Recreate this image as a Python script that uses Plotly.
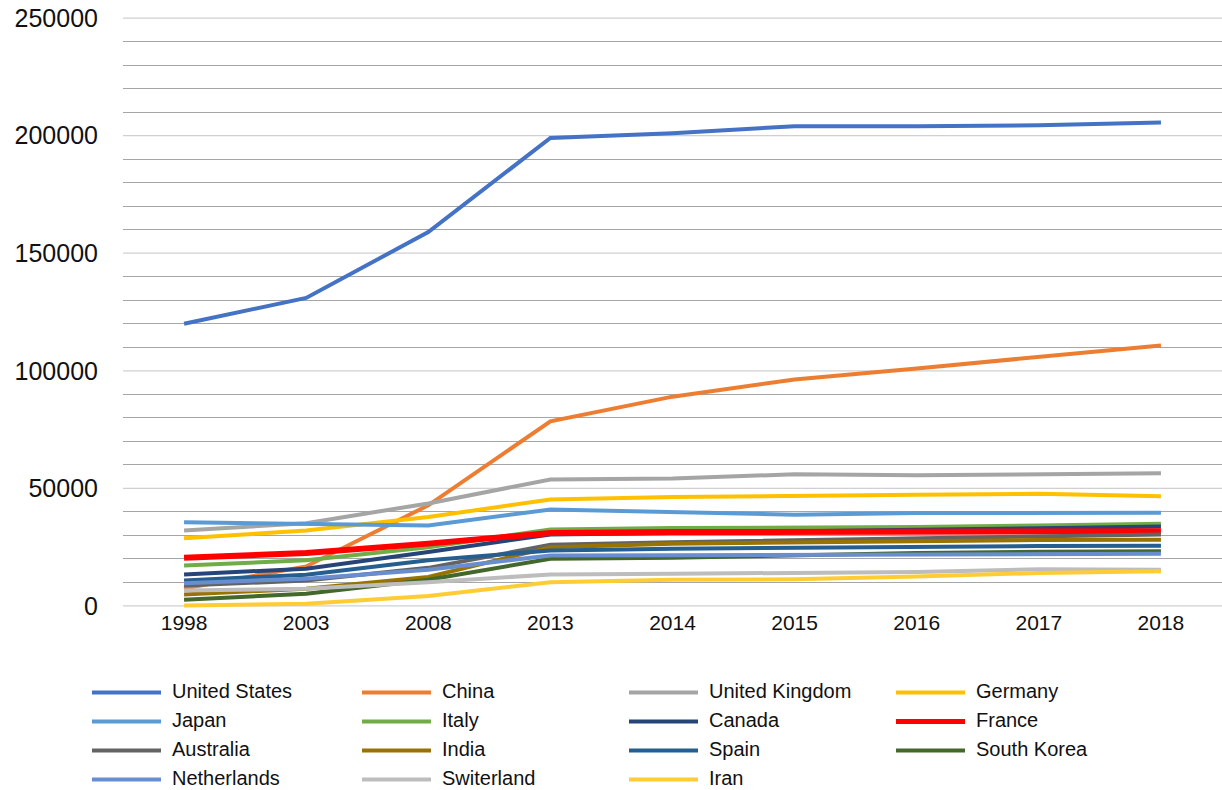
import plotly.graph_objects as go

years = ["1998", "2003", "2008", "2013", "2014", "2015", "2016", "2017", "2018"]

united_states = [120000, 131000, 159000, 199000, 201000, 204000, 204000, 204400, 205600]
china = [7400, 16800, 42800, 78500, 89000, 96300, 101000, 105700, 110800]
united_kingdom = [32100, 35200, 43600, 53800, 54200, 56000, 55600, 56000, 56400]
germany = [28800, 32100, 37800, 45300, 46300, 46600, 47300, 47700, 46600]
japan = [35600, 35000, 34200, 41000, 39900, 38800, 39500, 39500, 39600]
italy = [17200, 19400, 25000, 32500, 33100, 33200, 33600, 34200, 35000]
canada = [13400, 15800, 22900, 30400, 31000, 31500, 32400, 33000, 33800]
france = [20500, 22500, 26500, 31000, 31400, 31500, 32000, 32000, 31800]
australia = [8700, 10800, 16200, 26000, 27100, 28000, 29000, 29800, 30400]
india = [4900, 7300, 12300, 25000, 26500, 27000, 27800, 28000, 28200]
spain = [10800, 13300, 19400, 23600, 24300, 24800, 25300, 25500, 25600]
south_korea = [2600, 5200, 11100, 20100, 20500, 21500, 22500, 23000, 23300]
netherlands = [9700, 11600, 15400, 21500, 21600, 21800, 22000, 22200, 22200]
switzerland = [6600, 7300, 10100, 13400, 13700, 14000, 14400, 15600, 15400]
iran = [200, 900, 4200, 10100, 11100, 11300, 12500, 14000, 14800]

y_major_ticks = [0, 50000, 100000, 150000, 200000, 250000]
y_minor_ticks = [v for v in range(0, 250001, 10000) if v % 50000 != 0]

names = ["United States", "China", "United Kingdom", "Germany",
         "Japan", "Italy", "Canada", "France",
         "Australia", "India", "Spain", "South Korea",
         "Netherlands", "Switerland", "Iran"]
series = [united_states, china, united_kingdom, germany,
          japan, italy, canada, france,
          australia, india, spain, south_korea,
          netherlands, switzerland, iran]
colors = ["#4472C4", "#ED7D31", "#A5A5A5", "#FFC000",
          "#5B9BD5", "#70AD47", "#264478", "#FF0000",
          "#636363", "#997300", "#255E91", "#43682B",
          "#698ED0", "#BDBDBD", "#FFCD33"]
widths = [4, 4, 4, 4, 4, 4, 4, 6, 4, 4, 4, 4, 4, 4, 4]

W, H = 1222, 790
# y range padded so the 0 and 250000 gridlines are not clipped at the plot edges
Y_LO, Y_HI = -3000, 253000
top_px, zero_px = 17.7, 605.5            # pixel rows of 250000 and 0
ppu = (zero_px - top_px) / 250000.0
ML, MR = 123, 0
MT = top_px - (Y_HI - 250000) * ppu
MB = H - (zero_px + (0 - Y_LO) * ppu)

fig = go.Figure()
n = len(names)
for k, (name, vals, col, w) in enumerate(zip(names, series, colors, widths)):
    fig.add_trace(go.Scatter(x=years, y=vals, name=name, mode="lines",
                             line=dict(color=col, width=w), showlegend=False,
                             yaxis=("y2" if k == n - 1 else "y")))

shapes = []
annotations = []

# lighter gridlines at the labelled values (drawn beneath the data)
for v in y_major_ticks:
    shapes.append(dict(type="line", xref="paper", yref="y", layer="below",
                       x0=0, x1=1, y0=v, y1=v,
                       line=dict(color="#D0D0D0", width=1.2)))

# manual legend (4 columns)
pw = W - ML - MR
ph = H - MT - MB
col_x = [92, 362, 629, 896]
row_y = [692, 721, 750, 779]
for i, (name, col, w) in enumerate(zip(names, colors, widths)):
    r, c = divmod(i, 4)
    x0 = col_x[c]
    y = row_y[r]
    shapes.append(dict(type="line", xref="paper", yref="paper",
                       x0=(x0 - ML) / pw, x1=(x0 + 69 - ML) / pw,
                       y0=(H - MB - y) / ph, y1=(H - MB - y) / ph,
                       line=dict(color=col, width=(5 if w > 4 else 4))))
    annotations.append(dict(xref="paper", yref="paper",
                            x=(x0 + 78 - ML) / pw, y=(H - MB - y + 1) / ph,
                            text=name, showarrow=False, xanchor="left", yanchor="middle",
                            font=dict(size=20, color="#111111")))

fig.update_layout(
    width=W, height=H,
    margin=dict(l=ML, r=MR, t=MT, b=MB, autoexpand=False),
    paper_bgcolor="white", plot_bgcolor="white",
    font=dict(family="Liberation Sans, Arial, sans-serif", color="#111111"),
    shapes=shapes, annotations=annotations,
    xaxis=dict(type="category", range=[-0.5, len(years) - 0.5],
               showgrid=False, zeroline=False, showline=False, automargin=False,
               tickfont=dict(size=21), ticks="", ticklabelstandoff=-5),
    # darker in-between gridlines (every 10000), no labels
    yaxis=dict(range=[Y_LO, Y_HI], tickmode="array", tickvals=y_minor_ticks,
               showticklabels=False,
               showgrid=True, gridcolor="#A6A6A6", gridwidth=1,
               zeroline=False, showline=False, automargin=False, ticks=""),
    # labels every 50000
    yaxis2=dict(range=[Y_LO, Y_HI], overlaying="y", side="left", anchor="x",
                tickmode="array", tickvals=y_major_ticks, tickformat="d",
                showgrid=False, zeroline=False, showline=False, automargin=False,
                tickfont=dict(size=25), ticks="", ticklabelstandoff=24),
)

fig.write_html("out.html")
